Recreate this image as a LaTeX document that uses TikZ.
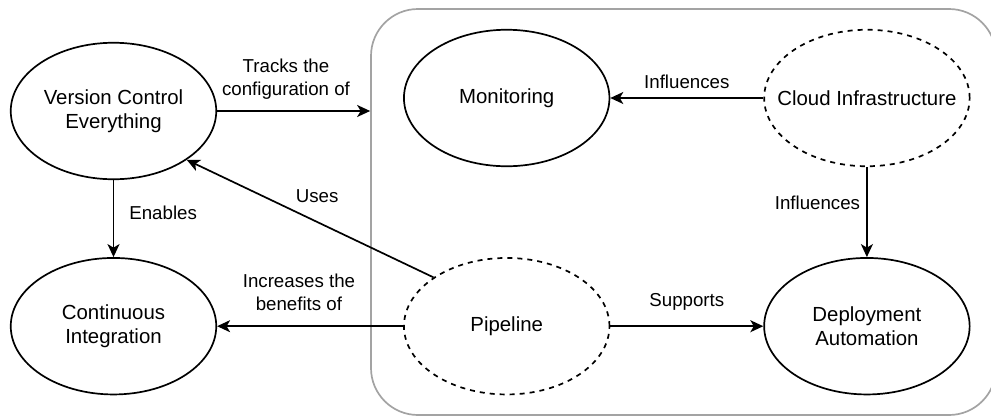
\documentclass[tikz,border=0pt]{standalone}
\usepackage{fontspec}
\setmainfont{Liberation Sans}
\usetikzlibrary{arrows.meta, positioning, shapes}

\definecolor{framegray}{HTML}{A3A3A3}

\begin{document}
\begin{tikzpicture}[
    x=1pt, y=1pt,
    node distance=77pt and 153pt,
    practice/.style={ellipse, draw, line width=1.7pt, minimum width=205.5pt, minimum height=136.5pt, inner xsep=-20pt, inner ysep=0pt, align=center, font=\fontsize{20.4}{24.5}\selectfont},
    enabler/.style={practice, dash pattern=on 5pt off 5pt},
    container/.style={rectangle, draw=framegray, line width=1.7pt, rounded corners=47pt, minimum width=625pt, minimum height=406pt},
    connector/.style={-{Stealth[length=13pt, width=12pt, inset=3.5pt]}, line width=1.7pt},
    edgelabel/.style={font=\fontsize{18.7}{22.4}\selectfont, align=center, inner sep=1pt},
]
    \useasboundingbox (0,0) rectangle (991,-418);

    % Group frame
    \node[container] (infra) at (683.5,-212) {};

    % Practices
    \node[practice] (vce) at (113.5,-111) {Version Control\\Everything};
    \node[practice, below=of vce] (ci) {Continuous\\Integration};
    \node[enabler, right=186pt of ci] (pipe) {Pipeline};
    \node[practice, right=of pipe] (deploy) {Deployment\\Automation};
    \node[enabler, above=90pt of deploy] (cloud) {Cloud Infrastructure};
    \node[practice, left=of cloud] (mon) {Monitoring};

    % Connect everything
    \draw[connector] (vce) -- node[edgelabel, above=10pt, pos=0.45] {Tracks the\\configuration of} (vce.east -| infra.west);
    \draw[connector] (cloud) -- node[edgelabel, above=7pt] {Influences} (mon);
    \draw[connector] (cloud) -- node[edgelabel, left=5pt, pos=0.4] {Influences} (deploy);
    \draw[connector] (vce) -- node[edgelabel, right=14pt, pos=0.43] {Enables} (ci);
    \draw[connector] (pipe.north west) -- node[edgelabel, above=14pt, xshift=7pt] {Uses} (vce.south east);
    \draw[connector] (pipe) -- node[edgelabel, above=14pt, pos=0.56] {Increases the\\benefits of} (ci);
    \draw[connector] (pipe) -- node[edgelabel, above=14pt] {Supports} (deploy);
\end{tikzpicture}
\end{document}
